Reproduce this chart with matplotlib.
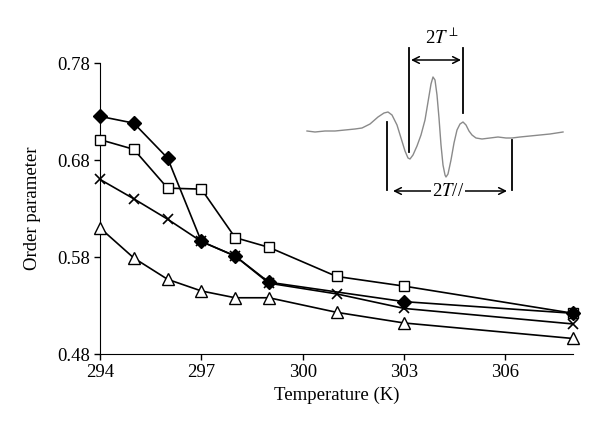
import matplotlib.pyplot as plt

plt.rcParams["font.family"] = ["Liberation Serif", "DejaVu Serif"]
plt.rcParams["mathtext.fontset"] = "stix"

# order parameter vs temperature
temps_diamond = [294, 295, 296, 297, 298, 299, 303, 308]
op_diamond = [0.725, 0.718, 0.682, 0.596, 0.581, 0.554, 0.534, 0.522]

temps = [294, 295, 296, 297, 298, 299, 301, 303, 308]
op_square = [0.701, 0.691, 0.651, 0.650, 0.600, 0.590, 0.560, 0.550, 0.522]
op_cross = [0.660, 0.640, 0.619, 0.596, 0.581, 0.553, 0.542, 0.527, 0.511]
op_triangle = [0.610, 0.579, 0.557, 0.545, 0.538, 0.538, 0.523, 0.512, 0.496]

x_ticks = [294, 297, 300, 303, 306]
y_ticks = [0.48, 0.58, 0.68, 0.78]

# inset ESR spectrum (arbitrary field units, signal)
field = [307, 315, 325, 335, 345, 355, 362, 370, 378, 384, 388, 392, 397, 401,
         405, 408, 410, 413, 417, 421, 425, 428, 431, 433, 435, 437, 439, 441,
         443, 445, 446, 448, 451, 454, 457, 460, 463, 466, 469, 472, 476, 482,
         490, 498, 506, 512, 520, 530, 540, 550, 563]
signal = [131, 132, 131, 131, 130, 129, 128, 124, 117, 113, 112, 115, 125, 138,
          151, 158, 159, 155, 146, 135, 120, 102, 84, 77, 80, 95, 118, 145,
          165, 175, 177, 174, 160, 143, 130, 124, 122, 125, 131, 135, 138, 139,
          138, 137, 138, 138, 137, 136, 135, 134, 132]
signal = [-s for s in signal]


def main():
    fig = plt.figure(figsize=(6, 4.33), dpi=100)
    ax = fig.add_axes([0.1667, 0.1824, 0.7883, 0.6721])

    kw = dict(color="black", lw=1.2, clip_on=False, zorder=3)
    ax.plot(temps, op_square, marker="s", ms=7.5, mfc="white", mec="black", mew=1.0, **kw)
    ax.plot(temps, op_cross, marker="x", ms=7.5, mew=1.2, **kw)
    ax.plot(temps, op_triangle, marker="^", ms=8, mfc="white", mec="black", mew=1.0, **kw)
    ax.plot(temps_diamond, op_diamond, marker="D", ms=7, mfc="black", mec="black", **kw)

    ax.set_xlim(294, 308)
    ax.set_ylim(0.48, 0.78)
    ax.set_xticks(x_ticks)
    ax.set_yticks(y_ticks)
    ax.set_yticklabels([f"{v:.2f}" for v in y_ticks])
    ax.spines["top"].set_visible(False)
    ax.spines["right"].set_visible(False)
    ax.tick_params(direction="out", length=4, width=1, labelsize=13.5, pad=3)
    ax.set_xlabel("Temperature (K)", fontsize=13.5, labelpad=4)
    ax.set_ylabel("Order parameter", fontsize=13.5, labelpad=12)

    # inset spectrum
    ins = fig.add_axes([300 / 600, 1 - 205 / 433, 270 / 600, 180 / 433])
    ins.set_xlim(300, 570)
    ins.set_ylim(-205, -25)
    ins.axis("off")
    ins.plot(field, signal, color="#8a8a8a", lw=1.0)

    lk = dict(color="black", lw=1.3)
    ins.plot([387, 387], [-122, -190], **lk)
    ins.plot([409, 409], [-48, -152], **lk)
    ins.plot([463, 463], [-48, -113], **lk)
    ins.plot([512, 512], [-140, -190], **lk)

    arr = dict(arrowstyle="<->", color="black", lw=1.1, shrinkA=0, shrinkB=0,
               mutation_scale=12)
    ins.annotate("", xy=(411, -60), xytext=(461, -60), arrowprops=arr)
    ins.annotate("", xy=(393, -191), xytext=(507, -191), arrowprops=arr)
    ins.text(442, -38, r"2$T^{\perp}$", ha="center", va="center", fontsize=13.5)
    ins.text(448, -191, r"2$T$//", ha="center", va="center", fontsize=13.5,
             bbox=dict(facecolor="white", edgecolor="none", pad=0.5))

    fig.savefig("out.png", dpi=100)


if __name__ == "__main__":
    main()
